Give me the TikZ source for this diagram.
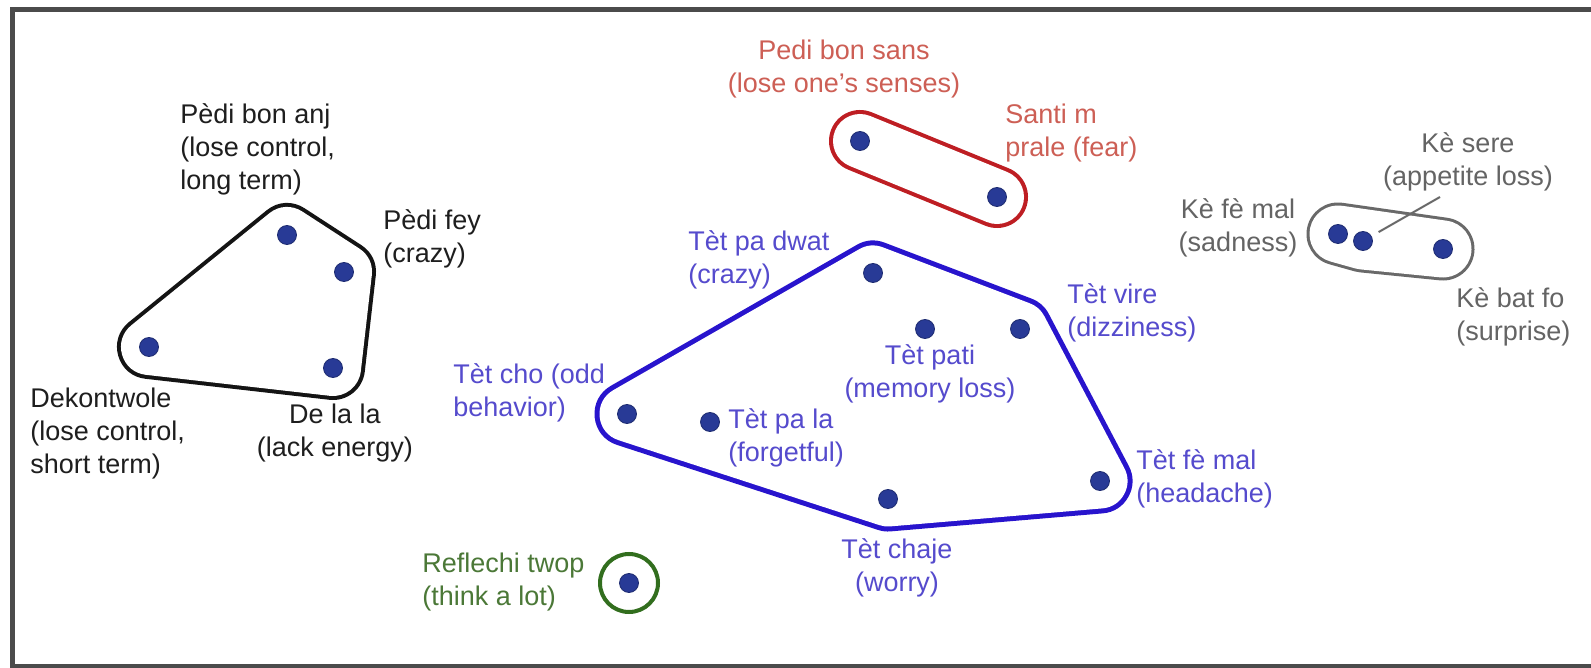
\documentclass[tikz,border=0pt]{standalone}
\usepackage{fontspec}
\setmainfont{Liberation Sans}
\definecolor{dotc}{RGB}{40,58,150}
\definecolor{blkline}{RGB}{20,20,20}
\definecolor{blktext}{RGB}{30,30,30}
\definecolor{bluline}{RGB}{40,20,205}
\definecolor{blutext}{RGB}{85,75,205}
\definecolor{redline}{RGB}{190,30,35}
\definecolor{redtext}{RGB}{205,95,85}
\definecolor{grayline}{RGB}{105,105,105}
\definecolor{graytext}{RGB}{100,100,100}
\definecolor{grnline}{RGB}{50,110,30}
\definecolor{grntext}{RGB}{75,120,55}
\definecolor{framec}{RGB}{75,75,75}
\begin{document}
\begin{tikzpicture}[x=0.5pt,y=-0.5pt,
  lbl/.style={font=\fontsize{13.5}{16.5}\selectfont, inner sep=0pt},
  dot/.style={circle, fill=dotc, draw=dotc!75!black, line width=0.4pt, minimum size=9.5pt, inner sep=0pt},
  hullring/.style 2 args={draw=#1, fill=#1, line width=#2, line join=round, line cap=round},
  ptr/.style={draw=grayline, line width=1pt}]
\useasboundingbox (0,0) rectangle (1591,668);
\fill[white] (0,0) rectangle (1591,668);
% frame
\draw[framec, line width=2.5pt] (1591,9.5) -- (12.5,9.5) -- (12.5,666.5) -- (1591,666.5);

% point coordinates
\coordinate (pba) at (287,235);
\coordinate (pfey) at (344,272);
\coordinate (dek) at (149,347);
\coordinate (dll) at (333,368);
\coordinate (pbs) at (860,141);
\coordinate (santi) at (997,197);
\coordinate (tpd) at (873,273);
\coordinate (tpati) at (925,329);
\coordinate (tvire) at (1020,329);
\coordinate (tfm) at (1100,481);
\coordinate (tchaje) at (888,499);
\coordinate (tcho) at (627,414);
\coordinate (tpl) at (710,422);
\coordinate (kfm) at (1338,234);
\coordinate (ksere) at (1363,241);
\coordinate (kbat) at (1443,249);
\coordinate (refl) at (629,583);

% hulls
\path[hullring={blkline}{32pt}] (pba) -- (pfey) -- (dll) -- (dek) -- cycle;
\path[hullring={white}{28pt}] (pba) -- (pfey) -- (dll) -- (dek) -- cycle;

\path[hullring={bluline}{32.5pt}] (tpd) -- (tvire) -- (tfm) -- (tchaje) -- (tcho) -- cycle;
\path[hullring={white}{27.5pt}] (tpd) -- (tvire) -- (tfm) -- (tchaje) -- (tcho) -- cycle;

\path[hullring={redline}{31pt}] (pbs) -- (santi);
\path[hullring={white}{27pt}] (pbs) -- (santi);

\path[hullring={grayline}{31.5pt}] (kfm) -- (kbat) -- (ksere) -- cycle;
\path[hullring={white}{28.5pt}] (kfm) -- (kbat) -- (ksere) -- cycle;

\draw[grnline, line width=2pt] (refl) circle[radius=29];

% labels
\node[lbl, text=blktext, anchor=west, align=left] (l-pba) at (180,149) {Pèdi bon anj\\(lose control,\\long term)};
\node[lbl, text=blktext, anchor=west, align=left] (l-pfey) at (383,238.5) {Pèdi fey\\(crazy)};
\node[lbl, text=blktext, anchor=west, align=left] (l-dek) at (30,434) {Dekontwole\\(lose control,\\short term)};
\node[lbl, text=blktext, align=center] (l-dll) at (335,433.5) {De la la\\(lack energy)};

\node[lbl, text=redtext, align=center] (l-pbs) at (844,69) {Pedi bon sans\\(lose one’s senses)};
\node[lbl, text=redtext, anchor=west, align=left] (l-santi) at (1005,133.5) {Santi m\\prale (fear)};

\node[lbl, text=blutext, anchor=west, align=left] (l-tpd) at (688,260) {Tèt pa dwat\\(crazy)};
\node[lbl, text=blutext, anchor=west, align=left] (l-tcho) at (453,392.5) {Tèt cho (odd\\behavior)};
\node[lbl, text=blutext, anchor=west, align=left] (l-tpl) at (728,437.5) {Tèt pa la\\(forgetful)};
\node[lbl, text=blutext, align=center] (l-tpati) at (930,373.5) {Tèt pati\\(memory loss)};
\node[lbl, text=blutext, anchor=west, align=left] (l-tvire) at (1067,312.5) {Tèt vire\\(dizziness)};
\node[lbl, text=blutext, anchor=west, align=left] (l-tfm) at (1136,478.5) {Tèt fè mal\\(headache)};
\node[lbl, text=blutext, align=center] (l-tchaje) at (897,567.5) {Tèt chaje\\(worry)};

\node[lbl, text=grntext, anchor=west, align=left] (l-refl) at (422,582.5) {Reflechi twop\\(think a lot)};

\node[lbl, text=graytext, align=center] (l-ksere) at (1468,161.5) {Kè sere\\(appetite loss)};
\node[lbl, text=graytext, align=center] (l-kfm) at (1238,227.5) {Kè fè mal\\(sadness)};
\node[lbl, text=graytext, anchor=west, align=left] (l-kbat) at (1456,316.5) {Kè bat fo\\(surprise)};

% dots
\foreach \p in {pba,pfey,dek,dll,pbs,santi,tpd,tpati,tvire,tfm,tchaje,tcho,tpl,kfm,ksere,kbat,refl}
  \node[dot] (d-\p) at (\p) {};

% pointer for Kè sere
\coordinate (ptrstart) at (1440,197);
\draw[ptr, shorten >=9pt] (ptrstart) -- (d-ksere.center);
\end{tikzpicture}
\end{document}
